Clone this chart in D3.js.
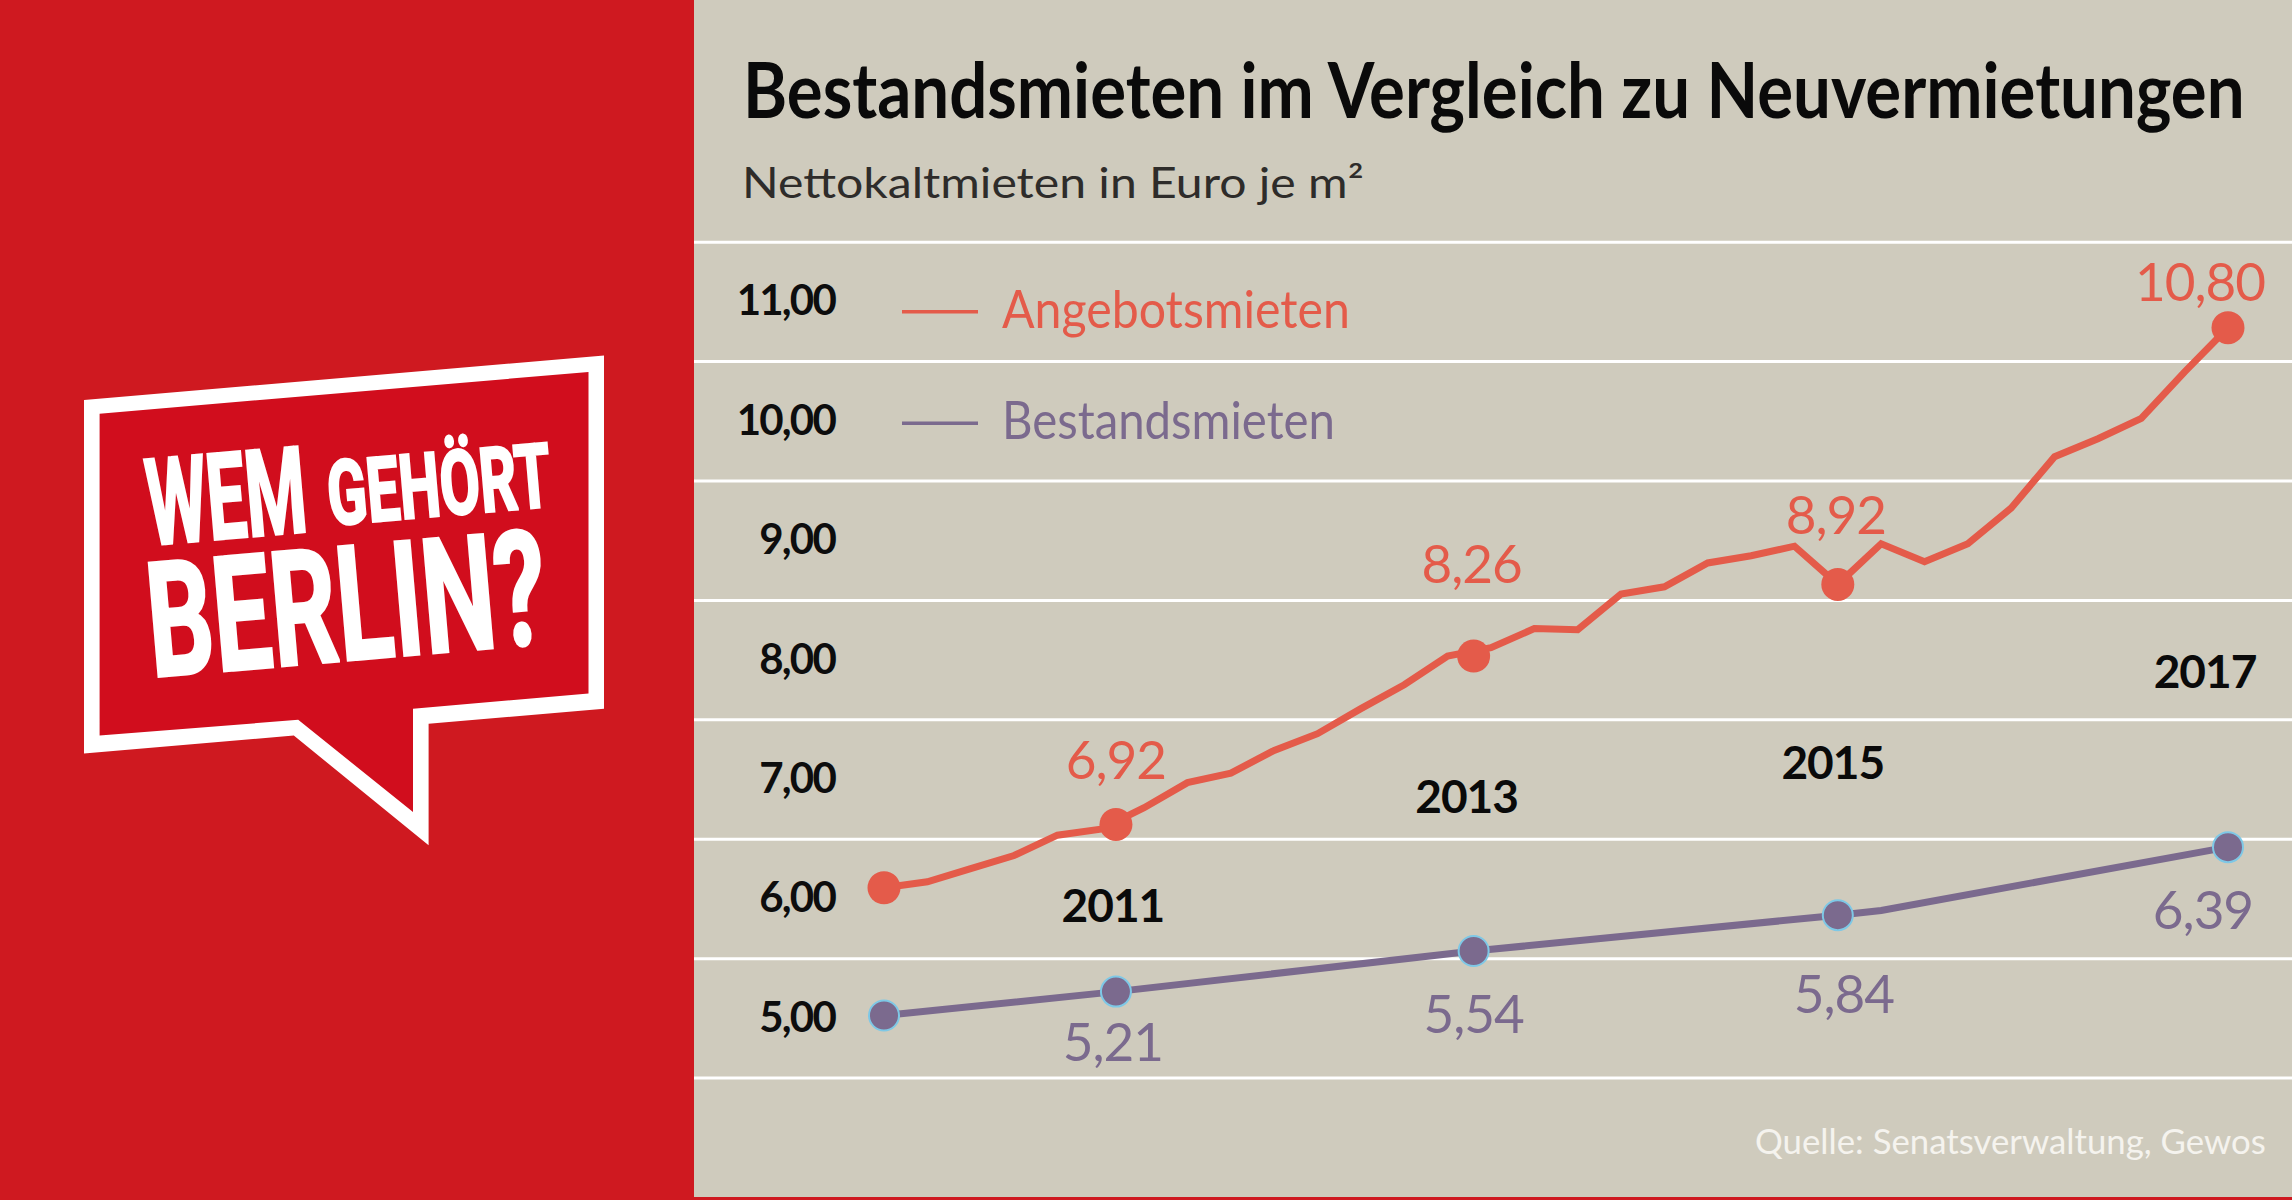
<!DOCTYPE html>
<html><head><meta charset="utf-8">
<script src="https://cdn.jsdelivr.net/npm/d3@7"></script>
<style>html,body{margin:0;padding:0;background:#cfcbbd;overflow:hidden}</style>
</head><body><svg id="c" width="2292" height="1200"></svg>
<script>
// ---------- data ----------
const periods = [0,1,2,3,4,5,6,7,8,9,10,11,12,13,14,15,16,17,18,19,20,21,22,23,24,25,26,27,28,29,30,31];
const angebot = [6.09,6.14,6.25,6.36,6.53,6.58,6.76,6.97,7.05,7.24,7.38,7.59,7.79,8.03,8.10,8.26,
                 8.25,8.55,8.61,8.81,8.87,8.95,8.63,8.97,8.82,8.97,9.27,9.70,9.85,10.02,10.41,10.78];
const bestandT = [0, 5.35, 13.6, 22, 23, 31];
const bestand  = [5.02, 5.22, 5.56, 5.86, 5.90, 6.43];
const markerT        = [0, 5.35, 13.6, 22, 31];
const angebotMarker  = [6.09, 6.62, 8.03, 8.63, 10.78];
const bestandMarker  = [5.02, 5.22, 5.56, 5.86, 6.43];
const angebotLabels  = ["", "6,92", "8,26", "8,92", "10,80"];
const bestandLabels  = ["", "5,21", "5,54", "5,84", "6,39"];
const yearLabels     = ["", "2011", "2013", "2015", "2017"];
const yTicks   = [5, 6, 7, 8, 9, 10, 11];
const gridVals = [4.5, 5.5, 6.5, 7.5, 8.5, 9.5, 10.5, 11.5];
const legendNames = ["Angebotsmieten", "Bestandsmieten"];
const titleText = "Bestandsmieten im Vergleich zu Neuvermietungen";
const subtitleText = "Nettokaltmieten in Euro je m²";
const sourceText = "Quelle: Senatsverwaltung, Gewos";

// ---------- layout (pixel offsets, styles) ----------
const RED = "#e45b4a", PURPLE = "#7b6a8e", BG = "#cfcbbd", PANEL = "#cf1920";
const angebotLabelOff = [null, [0,-45], [-2,-73], [-2,-50], [-28,-27]];
const bestandLabelOff = [null, [-3,69], [0,82], [6,98], [-25,82]];
const yearLabelOff    = [null, [-3,98], [-7,157], [-5,195], [-23,360]];

const svg = d3.select("#c");
const W = 2292, H = 1200;
svg.append("rect").attr("width", W).attr("height", H).attr("fill", BG);
svg.append("rect").attr("width", 694).attr("height", H).attr("fill", PANEL);
svg.append("rect").attr("y", 1197).attr("width", W).attr("height", 3).attr("fill", PANEL);

// place a text so that its advance width equals len (horizontal scaling, no textLength)
function fitText(parent, txt, px, py, len, anchor, rot, attrs) {
  const g = parent.append("g");
  const t = g.append("text").text(txt);
  Object.entries(attrs).forEach(([k, v]) => t.attr(k, v));
  const nat = t.node().getComputedTextLength();
  const k = len / nat;
  const shift = anchor === "end" ? -len : anchor === "middle" ? -len / 2 : 0;
  g.attr("transform", `translate(${px},${py}) rotate(${rot || 0}) translate(${shift},0) scale(${k},1)`);
  return t;
}

// ---------- logo ----------
const logo = svg.append("g");
logo.append("polygon").attr("fill", "#fff")
  .attr("points", [[84,400],[604,355.5],[604,708.7],[428.6,723.7],[428.6,845.3],[293.8,735.5],[84,753.5]].join(" "));
logo.append("polygon").attr("fill", "#d10d1d")
  .attr("points", [[99.6,413.7],[588.5,372],[588.5,693.4],[413,708.7],[413,812],[298.2,719.8],[99.6,735.5]].join(" "));
const logoTexts = [
  {t:"WEM", x:150, y:545, fs:120, len:160},
  {t:"GEHÖRT", x:330, y:525, fs:89, len:224},
  {t:"BERLIN?", x:152, y:677, fs:160, len:400}
];
logoTexts.forEach(d => fitText(logo, d.t, d.x, d.y, d.len, "start", -4.9, {
  "font-family": "Roboto, 'DejaVu Sans', sans-serif", "font-weight": 700, "font-size": d.fs,
  "fill": "#fff", "stroke": "#fff", "stroke-width": 3
}));

// ---------- scales ----------
const x = d3.scaleLinear().domain([0, 31]).range([884, 2228]);
const y = d3.scaleLinear().domain([4.5, 11.5]).range([1077.6, 241.7]);
const de = d3.formatLocale({decimal: ",", thousands: ".", grouping: [3], currency: ["", " €"]});
const fmt = de.format(".2f");

// gridlines
const grid = svg.append("g").attr("transform", "translate(694,0)")
  .call(d3.axisLeft(y).tickValues(gridVals).tickSize(-(W - 694)).tickFormat(""));
grid.select(".domain").remove();
grid.selectAll("line").attr("stroke", "#ffffff").attr("stroke-width", 3);

// y-axis labels
const yax = svg.append("g").attr("transform", "translate(835,0)")
  .call(d3.axisLeft(y).tickValues(yTicks).tickSize(0).tickPadding(0).tickFormat(fmt));
yax.select(".domain").remove();
yax.selectAll("text").attr("font-family", "Lato, sans-serif").attr("font-weight", 700)
  .attr("font-size", 42).attr("fill", "#0d0d0d").attr("letter-spacing", -1.8).attr("dy", "0.32em");

// ---------- title ----------
fitText(svg, titleText, 743, 118, 1502, "start", 0, {
  "font-family": "Lato, sans-serif", "font-weight": 700, "font-size": 76, "fill": "#0a0a0a"});
fitText(svg, subtitleText, 742, 198, 622, "start", 0, {
  "font-family": "Lato, sans-serif", "font-weight": 400, "font-size": 43, "fill": "#2e2c2a"});

// ---------- legend ----------
const legY = [311.7, 423.3];
const legLen = [348, 333];
const legColors = [RED, PURPLE];
const leg = svg.append("g");
legendNames.forEach((n, i) => {
  leg.append("line").attr("x1", 902).attr("x2", 978).attr("y1", legY[i]).attr("y2", legY[i])
    .attr("stroke", legColors[i]).attr("stroke-width", 3.5);
  fitText(leg, n, 1002, legY[i] + 16, legLen[i], "start", 0, {
    "font-family": "Lato, sans-serif", "font-size": 53, "fill": legColors[i]});
});

// ---------- lines ----------
const line = d3.line().x(d => x(d[0])).y(d => y(d[1]));
svg.append("path").datum(bestandT.map((t, i) => [t, bestand[i]]))
  .attr("d", line).attr("fill", "none").attr("stroke", PURPLE).attr("stroke-width", 7)
  .attr("stroke-linejoin", "miter");
svg.append("path").datum(periods.map((t, i) => [t, angebot[i]]))
  .attr("d", line).attr("fill", "none").attr("stroke", RED).attr("stroke-width", 7)
  .attr("stroke-linejoin", "miter");

// markers
svg.append("g").selectAll("circle").data(markerT).join("circle")
  .attr("cx", d => x(d)).attr("cy", (d, i) => y(angebotMarker[i])).attr("r", 16.5).attr("fill", RED);
svg.append("g").selectAll("circle").data(markerT).join("circle")
  .attr("cx", d => x(d)).attr("cy", (d, i) => y(bestandMarker[i])).attr("r", 15)
  .attr("fill", PURPLE).attr("stroke", "#7ec8e6").attr("stroke-width", 2);

// value labels
const labG = svg.append("g").attr("font-family", "Lato, sans-serif").attr("text-anchor", "middle");
markerT.forEach((t, i) => {
  if (angebotLabels[i]) {
    labG.append("text").attr("x", x(t) + angebotLabelOff[i][0]).attr("y", y(angebotMarker[i]) + angebotLabelOff[i][1])
      .attr("font-size", 53).attr("fill", RED).attr("letter-spacing", -1).text(angebotLabels[i]);
  }
  if (bestandLabels[i]) {
    labG.append("text").attr("x", x(t) + bestandLabelOff[i][0]).attr("y", y(bestandMarker[i]) + bestandLabelOff[i][1])
      .attr("font-size", 53).attr("fill", PURPLE).attr("letter-spacing", -1).text(bestandLabels[i]);
  }
  if (yearLabels[i]) {
    labG.append("text").attr("x", x(t) + yearLabelOff[i][0]).attr("y", y(angebotMarker[i]) + yearLabelOff[i][1])
      .attr("font-size", 46).attr("font-weight", 700).attr("fill", "#0a0a0a").attr("letter-spacing", -1).text(yearLabels[i]);
  }
});

// source
fitText(svg, sourceText, 2266, 1154, 511, "end", 0, {
  "font-family": "Lato, sans-serif", "font-size": 35, "fill": "#f5f3ee"});
</script></body></html>
